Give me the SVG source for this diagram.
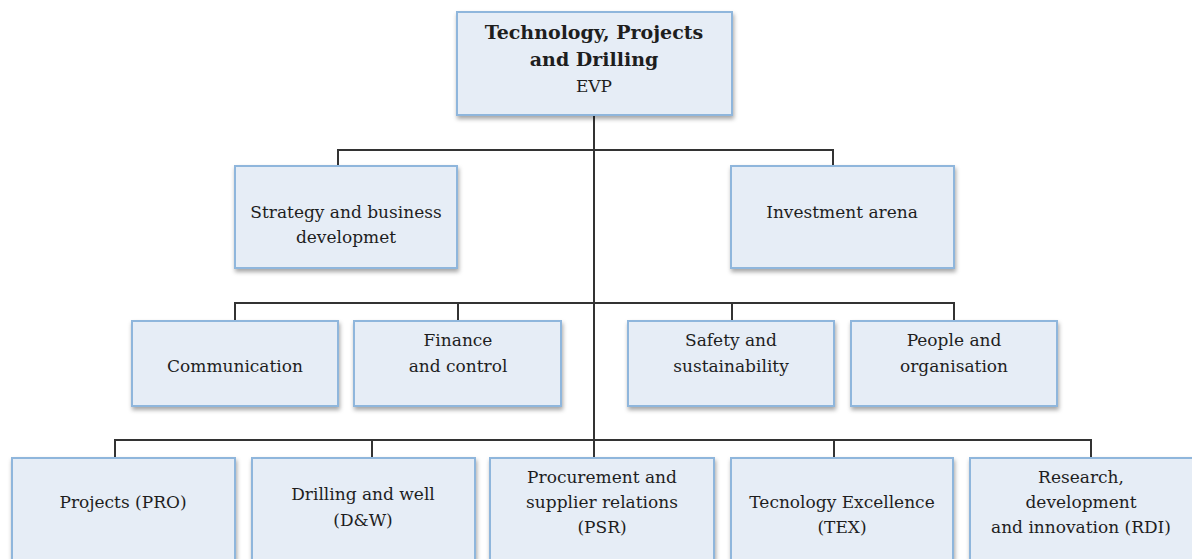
<svg xmlns="http://www.w3.org/2000/svg" width="1192" height="559" viewBox="0 0 1192 559">
<defs>
<filter id="sh" x="-10%" y="-10%" width="130%" height="130%">
<feDropShadow dx="1" dy="3" stdDeviation="2" flood-color="#000" flood-opacity="0.35"/>
</filter>
<style>
.box{fill:#e6edf6;stroke:#8fb6dc;stroke-width:2;filter:url(#sh)}
.t{font-family:"DejaVu Serif","Liberation Serif",serif;font-size:17px;fill:#1e1e1e;text-anchor:middle}
.b{font-weight:bold;font-size:19px}
.c{fill:none;stroke:#333;stroke-width:2}
</style>
</defs>
<rect width="1192" height="559" fill="#fff"/>
<g id="connectors">
<path class="c" d="M594,115 V440"/>
<path class="c" d="M338,166 V150 H833 V166"/>
<path class="c" d="M235,321 V303 H954 V321 M458,303 V321 M732,303 V321"/>
<path class="c" d="M115,458 V440 H1091 V458 M372,440 V458 M594,440 V458 M834,440 V458"/>
</g>
<g id="evp"><rect class="box" x="457" y="12" width="275" height="103"/>
<text class="t b" x="594" y="39">Technology, Projects</text>
<text class="t b" x="594" y="66">and Drilling</text>
<text class="t" x="594" y="92">EVP</text></g>
<g id="strategy"><rect class="box" x="235" y="166" width="222" height="102"/>
<text class="t" x="346" y="218">Strategy and business</text>
<text class="t" x="346" y="243">developmet</text></g>
<g id="investment"><rect class="box" x="731" y="166" width="223" height="102"/>
<text class="t" x="842" y="218">Investment arena</text></g>
<g id="communication"><rect class="box" x="132" y="321" width="206" height="85"/>
<text class="t" x="235" y="372">Communication</text></g>
<g id="finance"><rect class="box" x="354" y="321" width="207" height="85"/>
<text class="t" x="458" y="346">Finance</text>
<text class="t" x="458" y="372">and control</text></g>
<g id="safety"><rect class="box" x="628" y="321" width="206" height="85"/>
<text class="t" x="731" y="346">Safety and</text>
<text class="t" x="731" y="372">sustainability</text></g>
<g id="people"><rect class="box" x="851" y="321" width="206" height="85"/>
<text class="t" x="954" y="346">People and</text>
<text class="t" x="954" y="372">organisation</text></g>
<g id="pro"><rect class="box" x="12" y="458" width="223" height="110"/>
<text class="t" x="123" y="508">Projects (PRO)</text></g>
<g id="dw"><rect class="box" x="252" y="458" width="223" height="110"/>
<text class="t" x="363" y="500">Drilling and well</text>
<text class="t" x="363" y="526">(D&amp;W)</text></g>
<g id="psr"><rect class="box" x="490" y="458" width="224" height="110"/>
<text class="t" x="602" y="483">Procurement and</text>
<text class="t" x="602" y="508">supplier relations</text>
<text class="t" x="602" y="533">(PSR)</text></g>
<g id="tex"><rect class="box" x="731" y="458" width="222" height="110"/>
<text class="t" x="842" y="508">Tecnology Excellence</text>
<text class="t" x="842" y="533">(TEX)</text></g>
<g id="rdi"><rect class="box" x="970" y="458" width="230" height="110"/>
<text class="t" x="1081" y="483">Research,</text>
<text class="t" x="1081" y="508">development</text>
<text class="t" x="1081" y="533">and innovation (RDI)</text></g>
</svg>
